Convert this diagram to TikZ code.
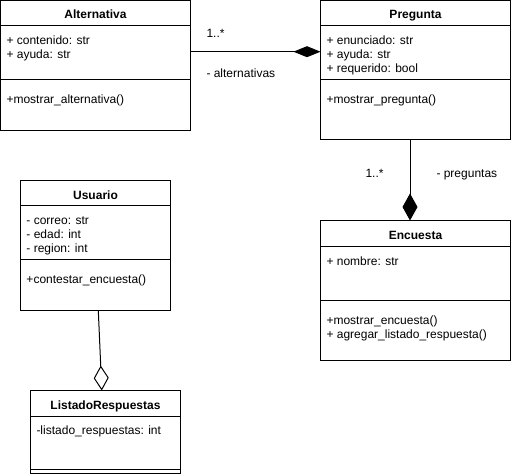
\documentclass[tikz,border=0pt]{standalone}
\usepackage{fontspec}
\setmainfont{Liberation Sans}
\usetikzlibrary{arrows.meta}
\begin{document}
\begin{tikzpicture}[x=1pt,y=-1pt,line width=1pt,
  cls/.style={draw,rectangle,inner sep=0pt,outer sep=0pt,anchor=north west},
  txt/.style={inner sep=0pt,anchor=base west,font=\fontsize{12}{14}\selectfont},
  ttl/.style={inner sep=0pt,anchor=base,font=\fontsize{12}{14}\selectfont\bfseries},
  comph/.style={-{Diamond[length=27pt,width=11pt,fill=black]}},
  compv/.style={-{Diamond[length=27pt,width=15pt,fill=black]}},
  aggr/.style={-{Diamond[length=25pt,width=15pt,fill=white]}}]
\useasboundingbox (0,0) rectangle (512,476);
% boxes
\node[cls,minimum width=190pt,minimum height=130pt] (alt) at (0.5,0.5) {};
\node[cls,minimum width=190pt,minimum height=139.5pt] (preg) at (320.5,0.5) {};
\node[cls,minimum width=150pt,minimum height=130pt] (usr) at (20.5,180.5) {};
\node[cls,minimum width=190pt,minimum height=140pt] (enc) at (320.5,220.5) {};
\node[cls,minimum width=150pt,minimum height=83pt] (lst) at (30.5,390.5) {};
% compartments
\foreach \b/\h/\d in {alt/25.5/79.5, preg/25.5/79.5, usr/25.5/79.5, enc/26/80, lst/25.5/78.5}{
  \draw ([yshift=-\h pt]\b.north west) -- ([yshift=-\h pt]\b.north east);
  \draw ([yshift=-\d pt]\b.north west) -- ([yshift=-\d pt]\b.north east);
}
% Alternativa
\node[ttl] (altT) at (95.5,18.5) {Alternativa};
\node[txt] (altA1) at (6,44.5) {+ contenido: str};
\node[txt] (altA2) at (6,58.5) {+ ayuda: str};
\node[txt] (altM1) at (6,103.5) {+mostrar\_alternativa()};
% Pregunta
\node[ttl] (pregT) at (415.5,18.5) {Pregunta};
\node[txt] (pregA1) at (326,44.5) {+ enunciado: str};
\node[txt] (pregA2) at (326,58.5) {+ ayuda: str};
\node[txt] (pregA3) at (326,72.5) {+ requerido: bool};
\node[txt] (pregM1) at (326,103.5) {+mostrar\_pregunta()};
% Usuario
\node[ttl] (usrT) at (95.5,199.5) {Usuario};
\node[txt] (usrA1) at (26,225) {- correo: str};
\node[txt] (usrA2) at (26,239) {- edad: int};
\node[txt] (usrA3) at (26,253) {- region: int};
\node[txt] (usrM1) at (26,283.5) {+contestar\_encuesta()};
% Encuesta
\node[ttl] (encT) at (415.5,239.5) {Encuesta};
\node[txt] (encA1) at (326,265.5) {+ nombre: str};
\node[txt] (encM1) at (326,324) {+mostrar\_encuesta()};
\node[txt] (encM2) at (326,338) {+ agregar\_listado\_respuesta()};
% ListadoRespuestas
\node[ttl] (lstT) at (105.5,409.5) {ListadoRespuestas};
\node[txt] (lstA1) at (36,434.5) {-listado\_respuestas: int};
% connectors
\draw[comph] ([yshift=-51.2pt]alt.north east) -- ([yshift=-51.2pt]preg.north west);
\draw[compv] ([xshift=89.5pt]preg.south west) -- ([xshift=89.5pt]enc.north west);
\draw[aggr] ([xshift=77.8pt]usr.south west) -- ([xshift=71.3pt]lst.north west);
% labels
\node[txt] (l1) at (206,37.5) {1..*};
\node[txt] (l2) at (206,77.5) {- alternativas};
\node[txt] (l3) at (365,177.5) {1..*};
\node[txt] (l4) at (436,177.5) {- preguntas};
\end{tikzpicture}
\end{document}
